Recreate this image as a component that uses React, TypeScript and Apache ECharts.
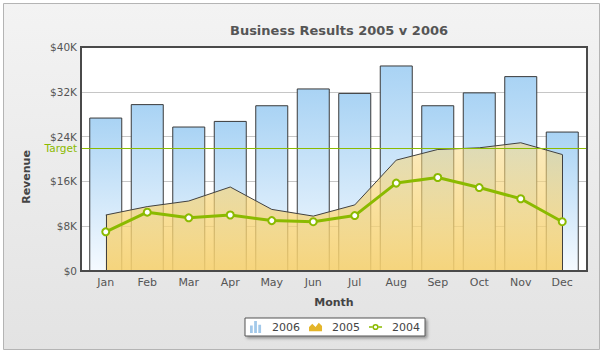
import React, { useEffect, useRef } from "react";
import * as echarts from "echarts";

const months = ["Jan", "Feb", "Mar", "Apr", "May", "Jun", "Jul", "Aug", "Sep", "Oct", "Nov", "Dec"];
const revenue2006 = [27400, 29800, 25800, 26800, 29600, 32600, 31800, 36700, 29600, 31900, 34800, 24900];
const revenue2005 = [10000, 11500, 12500, 15000, 11000, 9800, 11800, 19800, 21700, 22000, 22900, 20800];
const revenue2004 = [7000, 10500, 9500, 10000, 9000, 8800, 9900, 15700, 16700, 14900, 12900, 8800];
const targetValue = 22000;
const yTicks = { min: 0, max: 40000, interval: 8000 };

const FONT = "DejaVu Sans, Verdana, sans-serif";

export default function App() {
  const ref = useRef<HTMLDivElement>(null);
  useEffect(() => {
    if (!ref.current) return;
    const chart = echarts.init(ref.current, null, { renderer: "svg" });
    const barIcon = "path://M0,6L3,6L3,14L0,14Z M4.5,1L7.5,1L7.5,14L4.5,14Z M9,5L12,5L12,14L9,14Z";
    const areaIcon = "path://M0,10L0,6L3,3L6,6L9,2L12,5L12,10Z";
    const lineIcon =
      "path://M0,5.2L3.6,5.2L3.6,6.8L0,6.8Z M9.4,5.2L13,5.2L13,6.8L9.4,6.8Z M3.4,6A3.1,3.1 0 1,0 9.6,6A3.1,3.1 0 1,0 3.4,6Z M4.9,6A1.6,1.6 0 1,1 8.1,6A1.6,1.6 0 1,1 4.9,6Z";
    chart.setOption({
      animation: false,
      textStyle: { fontFamily: FONT },
      title: {
        text: "Business Results 2005 v 2006",
        left: 334,
        textAlign: "center",
        top: 19,
        textStyle: { fontFamily: FONT, fontSize: 13, fontWeight: "bold", color: "#555" },
      },
      graphic: [
        {
          type: "rect",
          z: -100,
          shape: { x: 3.5, y: 3.5, width: 596, height: 346 },
          style: {
            fill: new echarts.graphic.LinearGradient(0, 0, 0, 1, [
              { offset: 0, color: "#f3f3f3" },
              { offset: 1, color: "#e3e3e3" },
            ]),
            stroke: "#b4b4b4",
            lineWidth: 1,
          },
        },
        {
          type: "rect",
          z: 100,
          silent: true,
          shape: { x: 81, y: 47, width: 506, height: 224 },
          style: { fill: "none", stroke: "#4a4a4a", lineWidth: 2 },
        },
        {
          type: "text",
          x: 26,
          y: 177,
          rotation: Math.PI / 2,
          style: {
            text: "Revenue",
            align: "center",
            verticalAlign: "middle",
            font: "bold 11px " + FONT,
            fill: "#444",
          },
        },
      ],
      legend: {
        left: 245,
        top: 318,
        padding: [3, 5],
        itemWidth: 13,
        itemHeight: 12,
        itemGap: 9,
        backgroundColor: "#fff",
        borderColor: "#555",
        borderWidth: 1,
        shadowBlur: 3,
        shadowOffsetX: 2,
        shadowOffsetY: 2,
        shadowColor: "rgba(0,0,0,0.35)",
        textStyle: { fontFamily: FONT, fontSize: 11, color: "#444", padding: [0, 0, 0, 5] },
        data: [
          { name: "2006", icon: barIcon, itemStyle: { color: "#a3c9ea", borderWidth: 0 } },
          { name: "2005", icon: areaIcon, itemStyle: { color: "#e4b52a", borderWidth: 0 } },
          { name: "2004", icon: lineIcon, itemStyle: { color: "#8bba00", borderWidth: 0 } },
        ],
      },
      grid: [
        { left: 81, top: 47, width: 506, height: 224, show: true, backgroundColor: "#fff", borderWidth: 0 },
        { left: 85, top: 47, width: 498, height: 224 },
      ],
      xAxis: [
        { type: "category", gridIndex: 0, data: ["", ""], boundaryGap: false, show: false },
        {
          type: "category",
          gridIndex: 1,
          data: months,
          axisLine: { show: false },
          axisTick: { show: false },
          axisLabel: { margin: 6, color: "#555", fontSize: 11, fontFamily: FONT },
          name: "Month",
          nameLocation: "middle",
          nameGap: 26,
          nameTextStyle: { fontFamily: FONT, fontSize: 11, fontWeight: "bold", color: "#444" },
        },
      ],
      yAxis: [
        {
          type: "value",
          gridIndex: 0,
          min: yTicks.min,
          max: yTicks.max,
          interval: yTicks.interval,
          axisLine: { show: false },
          axisTick: { show: false },
          axisLabel: {
            margin: 4,
            color: "#555",
            fontSize: 10.5,
            lineHeight: 10,
            fontFamily: FONT,
            formatter: (v: number) => (v === 0 ? "$0" : "$" + v / 1000 + "K"),
          },
          splitLine: { lineStyle: { color: "#c6c6c6", width: 1 } },
        },
        { type: "value", gridIndex: 1, min: yTicks.min, max: yTicks.max, show: false, splitLine: { show: false } },
      ],
      series: [
        {
          name: "2006",
          type: "bar",
          xAxisIndex: 1,
          yAxisIndex: 1,
          barWidth: 33,
          data: revenue2006,
          z: 2,
          itemStyle: {
            color: new echarts.graphic.LinearGradient(0, 0, 0, 1, [
              { offset: 0, color: "#a9d3f4" },
              { offset: 1, color: "#f5faff" },
            ]),
            borderColor: "#3a3a3a",
            borderWidth: 1,
          },
        },
        {
          name: "2005",
          type: "line",
          xAxisIndex: 1,
          yAxisIndex: 1,
          data: revenue2005,
          symbol: "none",
          z: 3,
          lineStyle: { color: "#404040", width: 1 },
          itemStyle: { color: "#e4b52a" },
          areaStyle: {
            color: new echarts.graphic.LinearGradient(0, 0, 0, 1, [
              { offset: 0, color: "rgba(249,215,122,0.5)" },
              { offset: 1, color: "rgba(245,208,110,0.9)" },
            ]),
            opacity: 1,
          },
          markLine: {
            silent: true,
            symbol: ["none", "none"],
            label: { show: false },
            lineStyle: { color: "#404040", width: 1, type: "solid" },
            data: [
              [{ coord: [months[0], 0] }, { coord: [months[0], revenue2005[0]] }],
              [{ coord: [months[11], 0] }, { coord: [months[11], revenue2005[11]] }],
            ],
          },
        },
        {
          name: "2004",
          type: "line",
          xAxisIndex: 1,
          yAxisIndex: 1,
          data: revenue2004,
          z: 5,
          symbol: "circle",
          symbolSize: 7,
          lineStyle: { color: "#8bba00", width: 3 },
          itemStyle: { color: "#fff", borderColor: "#8bba00", borderWidth: 2 },
        },
        {
          name: "target",
          type: "line",
          xAxisIndex: 0,
          yAxisIndex: 0,
          data: [targetValue, targetValue],
          symbol: "none",
          z: 6,
          lineStyle: { opacity: 0 },
          markLine: {
            silent: true,
            symbol: ["none", "none"],
            lineStyle: { color: "#8bba00", width: 1, type: "solid" },
            label: {
              show: true,
              position: "start",
              distance: 4,
              formatter: "Target",
              color: "#8bba00",
              fontSize: 10.5,
              lineHeight: 10,
              fontFamily: FONT,
            },
            data: [{ yAxis: targetValue }],
          },
        },
      ],
    });
    return () => chart.dispose();
  }, []);
  return (
    <div
      ref={ref}
      style={{ position: "absolute", left: 0, top: 0, width: 604, height: 354 }}
    />
  );
}
